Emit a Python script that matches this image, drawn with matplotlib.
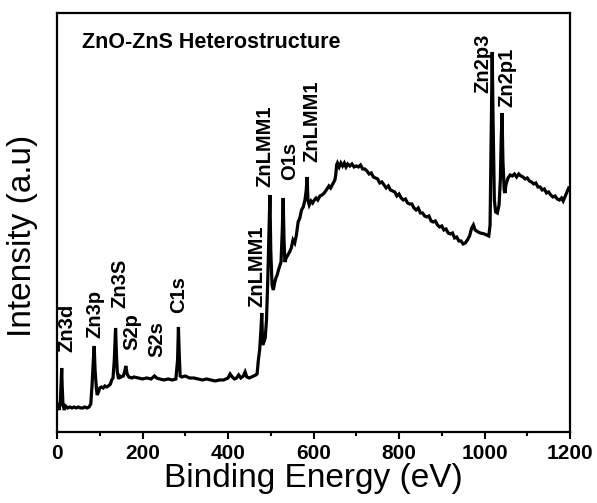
import matplotlib
matplotlib.use("Agg")
import matplotlib.pyplot as plt
from matplotlib.ticker import MultipleLocator

energy = [2,5,8,10,11,12,14,17,20,25,
          30,35,40,45,50,55,60,65,70,75,
          79,82,85,87,89,92,94,97,100,104,
          108,112,116,120,125,128,131,134,137,139,
          141,144,147,150,155,158,161,164,168,175,
          180,190,200,210,220,228,233,240,250,260,
          270,278,282,284,286,288,292,300,310,320,
          330,340,350,360,370,380,390,400,405,410,
          415,420,425,430,436,440,444,450,455,460,
          465,468,471,474,477,479,481,484,487,490,
          493,496,498,500,503,506,509,512,515,518,
          521,524,527,529,531,533,536,540,544,548,
          552,556,560,564,568,572,576,580,583,585,
          587,590,594,598,602,606,610,615,620,625,
          630,636,640,645,650,652,654,656,660,664,
          668,672,676,680,685,690,695,
          700,705,710,715,720,725,730,735,740,745,
          750,755,760,765,770,775,780,785,790,795,
          800,805,810,815,820,825,830,835,840,845,
          850,855,860,865,870,875,880,885,890,895,
          900,905,910,915,920,925,930,935,940,945,
          950,955,
          960,965,970,974,978,985,990,1000,1005,1010,
          1013,1016,1018,1020,1023,1026,1030,1034,1037,1039,
          1041,1043,1046,1048,1050,
          1055,1060,1065,1070,1075,1080,1085,1090,1095,1100,
          1105,1110,1115,1120,1125,1130,1135,1140,1145,1150,
          1155,1160,1165,1170,1175,1180,1184,1190,1197]

intensity = [27,22,32,52,64,47,27,22,26,24,
             25,24,25,24,25,24,24,25,24,25,
             28,47,72,86,62,44,37,40,44,45,
             44,46,45,46,48,52,54,72,104,77,
             60,53,56,55,56,60,66,58,55,54,
             55,54,53,54,53,56,54,53,52,53,
             52,53,72,105,77,56,55,56,54,54,
             53,52,53,52,51,52,52,54,58,55,
             53,54,57,54,56,60,55,54,55,56,
             57,58,72,82,102,119,87,90,94,112,
             152,202,237,182,147,142,149,154,157,162,
             166,170,202,234,192,170,174,177,180,184,
             192,189,197,210,214,222,225,232,242,255,
             232,227,231,229,232,234,232,236,237,239,
             242,246,244,248,252,257,267,269,265,269,
             266,269,265,268,266,268,265,
             266,265,267,263,263,261,258,259,255,254,
             253,249,250,247,244,246,242,241,240,236,
             238,234,232,233,229,228,228,224,222,224,
             219,219,216,215,216,211,210,211,207,205,
             206,202,203,199,198,199,194,195,191,191,
             188,189,
             192,196,204,207,202,200,199,198,197,196,
             207,312,380,312,232,220,219,227,252,292,
             319,272,242,239,247,
             254,257,256,258,255,258,256,255,253,254,
             251,250,248,249,245,245,242,243,239,240,
             237,235,236,233,232,234,231,237,244]

peak_labels = ["Zn3d", "Zn3p", "Zn3S", "S2p", "S2s", "C1s",
               "ZnLMM1", "ZnLMM1", "O1s", "ZnLMM1", "Zn2p3", "Zn2p1"]
label_energy = [23, 89, 147, 175, 233, 284, 468, 487, 545, 597, 995, 1052]
label_height = [80, 94, 124, 82, 75, 119, 125, 245, 252, 270, 339, 325]

title = "ZnO-ZnS Heterostructure"
xlabel = "Binding Energy (eV)"
ylabel = "Intensity (a.u)"

plt.rcParams['font.family'] = ['Liberation Sans', 'DejaVu Sans']

fig = plt.figure(figsize=(5.97, 5.03), dpi=100)
ax = fig.add_axes([0.0955, 0.1412, 0.8593, 0.833])

ax.plot(energy, intensity, color='black', lw=2.3, solid_joinstyle='miter')

for t, e, h in zip(peak_labels, label_energy, label_height):
    ax.text(e, h, t, rotation=90, ha='center', va='bottom',
            fontsize=14.5, fontweight='bold')

ax.set_xlim(0, 1200)
ax.set_ylim(0, 419)
ax.xaxis.set_major_locator(MultipleLocator(200))
ax.xaxis.set_minor_locator(MultipleLocator(100))
ax.set_yticks([])
ax.tick_params(axis='x', which='major', direction='out', length=5, width=1.5,
               labelsize=15, pad=4)
ax.tick_params(axis='x', which='minor', direction='out', length=3, width=1.5)
for lab in ax.get_xticklabels():
    lab.set_fontweight('bold')
for s in ax.spines.values():
    s.set_linewidth(1.6)

ax.set_xlabel(xlabel, fontsize=24, labelpad=0)
ax.set_ylabel(ylabel, fontsize=24)
ax.yaxis.set_label_coords(-0.037, 0.469)

ax.text(0.049, 0.916, title, transform=ax.transAxes, fontsize=15.5,
        fontweight='bold', ha='left', va='baseline')

fig.savefig("out.png", dpi=100)
